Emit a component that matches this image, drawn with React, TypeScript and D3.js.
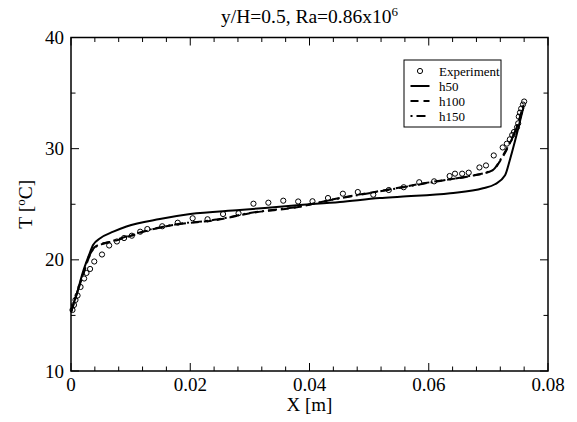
import React from "react";
import * as d3 from "d3";

const expX = [0.00025,0.0005,0.00075,0.0011,0.0016,0.0022,0.0026,0.0032,0.0039,0.0052,0.0064,0.0077,0.0089,0.0102,0.0116,0.0128,0.0153,0.0179,0.0204,0.0229,0.0255,0.0281,0.0306,0.0331,0.0356,0.0381,0.0405,0.0431,0.0456,0.0481,0.0507,0.0533,0.0558,0.0584,0.0609,0.0635,0.0644,0.0656,0.0667,0.0685,0.0696,0.0709,0.0724,0.0731,0.0736,0.074,0.0743,0.0748,0.075,0.0751,0.0753,0.0755,0.0758,0.076];
const expT = [15.49,15.94,16.39,16.79,17.56,18.32,18.82,19.18,19.85,20.48,21.29,21.65,21.96,22.17,22.53,22.77,23.02,23.34,23.74,23.65,24.12,24.19,25.05,25.14,25.32,25.25,25.27,25.56,25.95,26.1,25.86,26.28,26.53,26.98,27.06,27.54,27.75,27.75,27.84,28.31,28.49,29.39,30.11,30.45,30.84,31.23,31.5,31.92,32.28,32.88,33.24,33.6,33.97,34.24];

const h50X = [0,0.001,0.002,0.003,0.0037,0.0049,0.0071,0.0093,0.0149,0.02,0.0283,0.0384,0.0451,0.0518,0.0552,0.0636,0.0691,0.0711,0.0728,0.0736,0.0748,0.0759];
const h50T = [15.3,17.0,18.9,20.4,21.33,21.94,22.53,23.0,23.67,24.12,24.48,24.93,25.2,25.56,25.68,25.99,26.44,26.8,27.6,28.98,31.38,33.78];

const h100X = [0,0.001,0.002,0.003,0.004,0.0054,0.0065,0.0099,0.0132,0.0177,0.0244,0.03,0.0384,0.044,0.0479,0.0535,0.0591,0.0619,0.0664,0.0708,0.0719,0.0736,0.0748,0.0759];
const h100T = [15.3,17.0,18.6,20.2,21.15,21.49,21.6,22.14,22.68,23.18,23.58,24.19,24.78,25.45,25.83,26.35,26.88,27.12,27.48,28.08,28.83,30.48,31.98,33.93];

const h150X = [0,0.001,0.002,0.003,0.004,0.0054,0.0065,0.0099,0.0132,0.0177,0.0244,0.03,0.0384,0.044,0.0479,0.0535,0.0591,0.0619,0.0664,0.0708,0.0719,0.0736,0.0748,0.0759];
const h150T = [15.3,17.0,18.7,20.3,21.1,21.45,21.62,22.2,22.72,23.2,23.62,24.22,24.8,25.42,25.8,26.32,26.85,27.1,27.5,28.1,28.9,30.55,32.0,33.95];

const xMajor = [0, 0.02, 0.04, 0.06, 0.08];
const xMajorLabels = ["0", "0.02", "0.04", "0.06", "0.08"];
const yMajor = [10, 20, 30, 40];
const yMajorLabels = ["10", "20", "30", "40"];

const W = 577, H = 422;
const L = 71, R = 548, T = 37.5, B = 371;
const FONT = "'Liberation Serif', 'Times New Roman', serif";

export default function App() {
  const x = d3.scaleLinear().domain([0, 0.08]).range([L, R]);
  const y = d3.scaleLinear().domain([10, 40]).range([B, T]);
  const xMinor = d3.range(0, 0.0801, 0.004).filter((v) => Math.abs(v / 0.02 - Math.round(v / 0.02)) > 1e-6);
  const yMinor = [15, 25, 35];
  const line = (xs: number[], ts: number[]) =>
    d3.line<number>().x((_, i) => x(xs[i])).y((_, i) => y(ts[i])).curve(d3.curveMonotoneX)(xs) || "";

  const lg = { x0: 404, y0: 60, x1: 501, y1: 127 };
  const rows = [71, 86, 101, 116];

  return (
    <svg width={W} height={H} style={{ position: "absolute", left: 0, top: 0, background: "#fff" }} fontFamily={FONT}>
      <rect x={0} y={0} width={W} height={H} fill="#fff" />
      <path d={line(h50X, h50T)} fill="none" stroke="#000" strokeWidth={2} />
      <path d={line(h100X, h100T)} fill="none" stroke="#000" strokeWidth={2} strokeDasharray="8,5" />
      <path d={line(h150X, h150T)} fill="none" stroke="#000" strokeWidth={2} strokeDasharray="9,4,2,4" />
      {expX.map((v, i) => (
        <circle key={i} cx={x(v)} cy={y(expT[i])} r={2.6} fill="none" stroke="#000" strokeWidth={1} />
      ))}
      <rect x={L} y={T} width={R - L} height={B - T} fill="none" stroke="#000" strokeWidth={1.5} />
      {xMajor.map((v, i) => (
        <g key={"xm" + i}>
          <line x1={x(v)} x2={x(v)} y1={B} y2={B - 8} stroke="#000" strokeWidth={1} />
          <line x1={x(v)} x2={x(v)} y1={T} y2={T + 8} stroke="#000" strokeWidth={1} />
          <text x={x(v)} y={391} textAnchor="middle" fontSize={19}>{xMajorLabels[i]}</text>
        </g>
      ))}
      {xMinor.map((v, i) => (
        <g key={"xn" + i}>
          <line x1={x(v)} x2={x(v)} y1={B} y2={B - 4.5} stroke="#000" strokeWidth={1} />
          <line x1={x(v)} x2={x(v)} y1={T} y2={T + 4.5} stroke="#000" strokeWidth={1} />
        </g>
      ))}
      {yMajor.map((v, i) => (
        <g key={"ym" + i}>
          <line x1={L} x2={L + 8} y1={y(v)} y2={y(v)} stroke="#000" strokeWidth={1} />
          <line x1={R} x2={R - 8} y1={y(v)} y2={y(v)} stroke="#000" strokeWidth={1} />
          <text x={64} y={y(v) + 6.5} textAnchor="end" fontSize={19}>{yMajorLabels[i]}</text>
        </g>
      ))}
      {yMinor.map((v, i) => (
        <g key={"yn" + i}>
          <line x1={L} x2={L + 4.5} y1={y(v)} y2={y(v)} stroke="#000" strokeWidth={1} />
          <line x1={R} x2={R - 4.5} y1={y(v)} y2={y(v)} stroke="#000" strokeWidth={1} />
        </g>
      ))}
      <text x={(L + R) / 2} y={23} textAnchor="middle" fontSize={19.5}>
        y/H=0.5, Ra=0.86x10<tspan dy={-7} fontSize={13}>6</tspan>
      </text>
      <text x={(L + R) / 2} y={411} textAnchor="middle" fontSize={19}>X [m]</text>
      <text transform={`translate(32,${(T + B) / 2}) rotate(-90)`} textAnchor="middle" fontSize={19.5}>
        T [<tspan dy={-7} fontSize={13}>o</tspan><tspan dy={7}>C]</tspan>
      </text>
      <rect x={lg.x0} y={lg.y0} width={lg.x1 - lg.x0} height={lg.y1 - lg.y0} fill="#fff" stroke="#000" strokeWidth={1} />
      <circle cx={420} cy={rows[0]} r={2.6} fill="none" stroke="#000" strokeWidth={1} />
      <line x1={410.5} x2={429.5} y1={rows[1]} y2={rows[1]} stroke="#000" strokeWidth={2} />
      <line x1={410.5} x2={429.5} y1={rows[2]} y2={rows[2]} stroke="#000" strokeWidth={2} strokeDasharray="8,5" />
      <line x1={410.5} x2={429.5} y1={rows[3]} y2={rows[3]} stroke="#000" strokeWidth={2} strokeDasharray="2,4,9,4" />
      {["Experiment", "h50", "h100", "h150"].map((t, i) => (
        <text key={t} x={439} y={rows[i] + 4.5} fontSize={13}>{t}</text>
      ))}
    </svg>
  );
}
